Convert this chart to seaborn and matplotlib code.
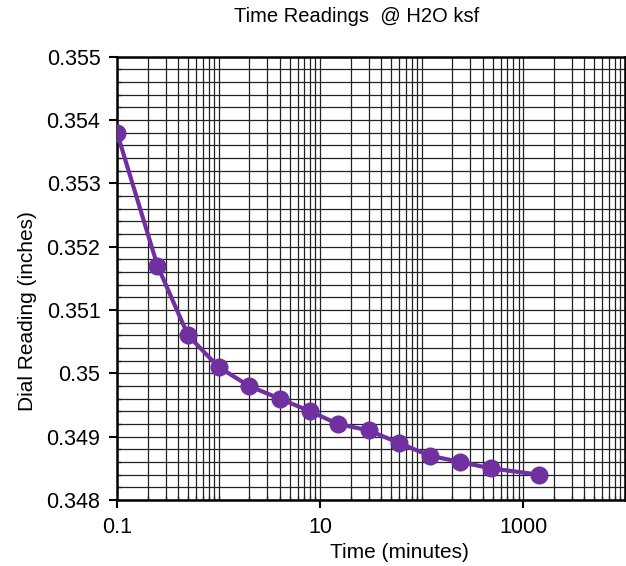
import matplotlib
matplotlib.use("Agg")
import matplotlib.pyplot as plt
import matplotlib.ticker as mticker
import numpy as np
import pandas as pd
import seaborn as sns

# consolidation readings
time_min = [0.1, 0.25, 0.5, 1, 2, 4, 8, 15, 30, 60, 120, 240, 480, 1440]
dial_in = [0.3538, 0.3517, 0.3506, 0.3501, 0.3498, 0.3496, 0.3494,
           0.3492, 0.3491, 0.3489, 0.3487, 0.3486, 0.3485, 0.3484]
x_labels = [0.1, 10, 1000]

sns.set_style("white")
plt.rcParams["font.family"] = ["Liberation Sans", "DejaVu Sans"]
plt.rcParams["text.color"] = "black"
plt.rcParams["axes.labelcolor"] = "black"

df = pd.DataFrame({"Time": time_min, "Reading": dial_in})

fig = plt.figure(figsize=(6.26, 5.66), dpi=100)
ax = fig.add_axes([0.187, 0.1166, 0.811, 0.783])

sns.lineplot(data=df, x="Time", y="Reading", ax=ax, color="#7030A0",
             linewidth=3, marker="o", markersize=13, markeredgewidth=0,
             zorder=5)

ax.set_xscale("log")
ax.set_xlim(0.1, 10000)
ax.set_ylim(0.348, 0.355)

# x: labels every two decades, grid on every 1..9
ax.xaxis.set_major_locator(mticker.FixedLocator(x_labels))
ax.xaxis.set_major_formatter(mticker.FixedFormatter(["0.1", "10", "1000"]))
ax.xaxis.set_minor_locator(mticker.LogLocator(base=10, subs=np.arange(1, 10), numticks=20))
ax.xaxis.set_minor_formatter(mticker.NullFormatter())

ax.yaxis.set_major_locator(mticker.MultipleLocator(0.001))
ax.yaxis.set_minor_locator(mticker.MultipleLocator(0.0002))
ax.yaxis.set_major_formatter(mticker.FuncFormatter(
    lambda v, p: "0.35" if abs(v - 0.35) < 1e-9 else f"{v:.3f}"))

ax.grid(which="both", axis="both", color="#222222", linewidth=0.9)
ax.tick_params(which="major", direction="out", length=6, width=1.5,
               labelsize=15.5, colors="black", bottom=True, left=True, pad=6)
ax.tick_params(which="minor", direction="in", length=3, width=1, bottom=True, left=True)

for s in ax.spines.values():
    s.set_color("black")
    s.set_linewidth(1.8)

ax.set_xlabel("Time (minutes)", fontsize=15)
ax.xaxis.set_label_coords(0.557, -0.098)
ax.set_ylabel("Dial Reading (inches)", fontsize=15)
ax.yaxis.set_label_coords(-0.157, 0.427)
ax.set_title("Time Readings  @ H2O ksf", fontsize=14.5, x=0.472, pad=25)

fig.savefig("out.png", dpi=100)
